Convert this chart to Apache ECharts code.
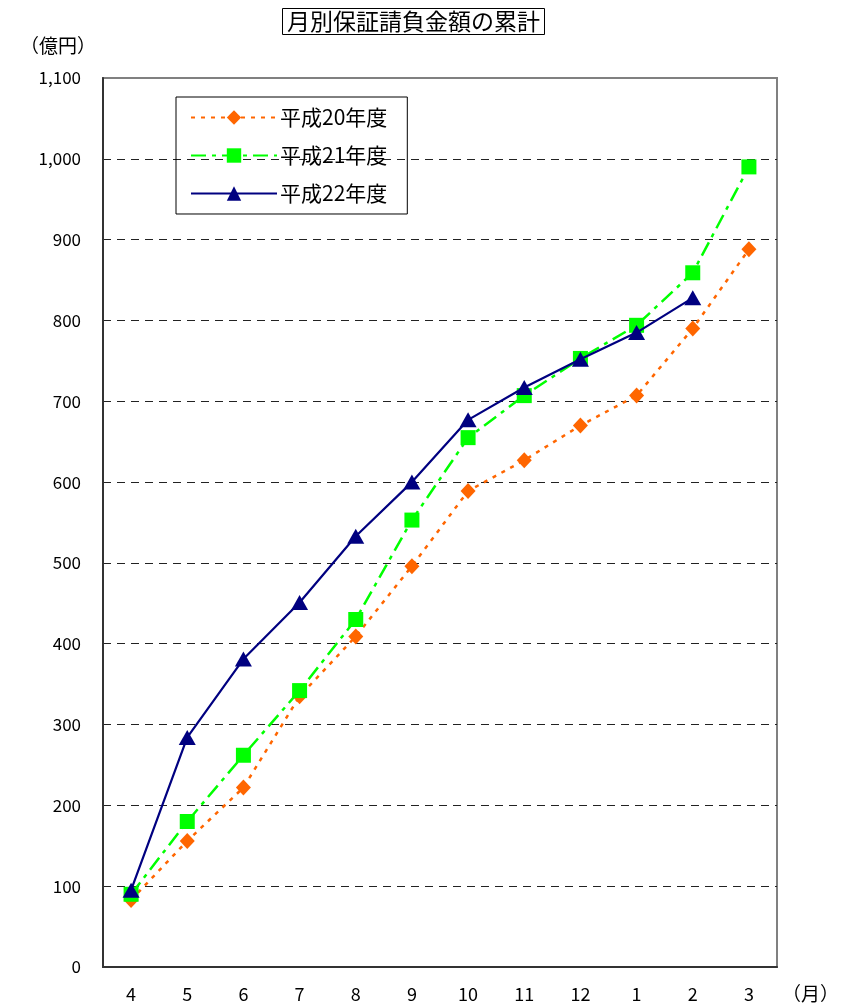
<!DOCTYPE html>
<html><head><meta charset="utf-8">
<script src="https://cdn.jsdelivr.net/npm/echarts@6/dist/echarts.min.js"></script>
<style>html,body{margin:0;padding:0;background:#fff}#c{width:845px;height:1008px}</style>
</head><body><div id="c"></div>
<script>
var months = ['4','5','6','7','8','9','10','11','12','1','2','3'];
var seriesNames = ['平成20年度','平成21年度','平成22年度'];
var h20 = [83,156,222,335,409,496,589,627,670,707,790,888];
var h21 = [90,180,262,342,430,553,655,707,753,794,859,990];
var h22 = [95,284,381,451,533,600,677,717,752,785,828,null];
var yTicks = {min:0,max:1100,interval:100};
var FONT = '"Noto Sans CJK JP", "Noto Sans", sans-serif';

var chart = echarts.init(document.getElementById('c'));
chart.setOption({
  animation:false,
  backgroundColor:'#fff',
  textStyle:{fontFamily:FONT},
  title:{text:'月別保証請負金額の累計', left:282, top:8, padding:[2,5,2,5],
    borderColor:'#000', borderWidth:1,
    textStyle:{fontSize:23, fontWeight:'normal', color:'#000', fontFamily:FONT}},
  legend:{orient:'vertical', left:176, top:97, padding:[10,20,10,14], itemGap:17,
    borderColor:'#000', borderWidth:1, itemWidth:86, itemHeight:18,
    textStyle:{fontSize:21, color:'#000', fontFamily:FONT, padding:[0,0,0,-2]},
    data:seriesNames},
  grid:{left:103, right:68, top:78, bottom:41, show:true, borderColor:'#808080', borderWidth:2},
  graphic:[
    {type:'text', left:20, top:36, style:{text:'（億円）', fontSize:19, fill:'#000', fontFamily:FONT}},
    {type:'text', left:782, top:984, style:{text:'（月）', fontSize:19, fill:'#000', fontFamily:FONT}}
  ],
  xAxis:{type:'category', data:months,
    axisLine:{lineStyle:{color:'#333', width:2}},
    axisTick:{inside:true, length:5, lineStyle:{color:'#333'}},
    axisLabel:{fontSize:18, color:'#000', margin:18, fontFamily:FONT}},
  yAxis:{type:'value', min:yTicks.min, max:yTicks.max, interval:yTicks.interval,
    axisLine:{show:true, lineStyle:{color:'#333', width:2}},
    axisTick:{show:false},
    axisLabel:{fontSize:17, color:'#000', margin:22, fontFamily:FONT,
      formatter:function(v){return v.toLocaleString('en-US');}},
    splitLine:{show:true, showMaxLine:false, lineStyle:{color:'#222', type:[8,6], width:1}}},
  series:[
    {name:seriesNames[0], type:'line', data:h20, symbol:'diamond', symbolSize:[15,16],
      itemStyle:{color:'#FF6600'}, lineStyle:{color:'#FF6600', width:2.5, type:[4,6]}, z:2},
    {name:seriesNames[1], type:'line', data:h21, symbol:'rect', symbolSize:15,
      itemStyle:{color:'#00FF00'}, lineStyle:{color:'#00FF00', width:2.5, type:[15,6,4,6]}, z:3},
    {name:seriesNames[2], type:'line', data:h22, symbol:'triangle', symbolSize:[17,15],
      itemStyle:{color:'#000080'}, lineStyle:{color:'#000080', width:2.2, type:'solid'}, z:4}
  ]
});
</script></body></html>
